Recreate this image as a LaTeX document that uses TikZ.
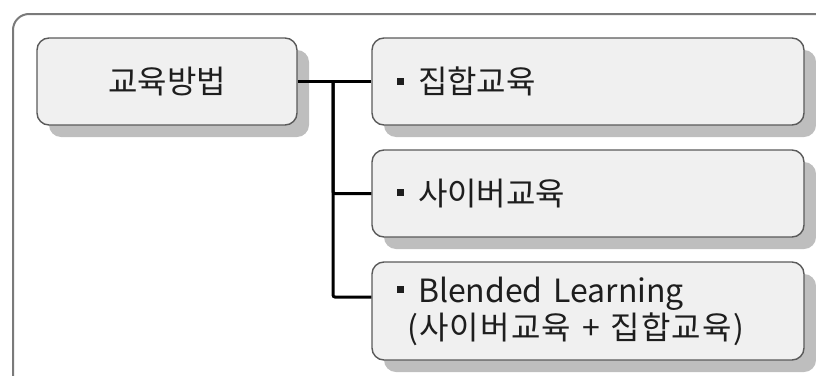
\documentclass[tikz,border=0pt]{standalone}
\usepackage{fontspec}
\setmainfont{Noto Sans CJK KR}
\usepackage{xcolor}
\usepackage{tikz}
\usetikzlibrary{shadows}
\definecolor{frame}{HTML}{7A7A7A}
\definecolor{boxfill}{HTML}{F0F0F0}
\definecolor{boxline}{HTML}{5A5A5A}
\definecolor{shade}{HTML}{BEBEBE}
\definecolor{ink}{HTML}{1E1E1E}
\tikzset{
  outline/.style={line width=2pt, draw=frame, rounded corners=16pt},
  topic/.style={draw=boxline, line width=1.4pt, fill=boxfill, rounded corners=12pt, text=ink,
    drop shadow={shadow xshift=12pt, shadow yshift=-12pt, fill=shade, opacity=1},
    font=\fontsize{32}{37}\selectfont},
  item/.style={topic, text width=382pt, inner xsep=25pt, align=left},
  branch/.style={line width=3pt, draw=black, rounded corners=2pt}
}
\newcommand{\ItemMark}{\raisebox{9pt}{\rule{7pt}{7pt}}\hspace{14pt}}

\begin{document}
\begin{tikzpicture}[x=1pt,y=-1pt]
  \clip (0,0) rectangle (816,375);
  \draw[outline] (830,14) -- (13,14) -- (13,390);
  \node[topic, minimum width=260pt, minimum height=87pt] (method) at (167,81.5) {교육방법};
  \node[item, minimum height=87pt] (group) at (588,81.5) {\ItemMark 집합교육};
  \node[item, minimum height=87pt] (cyber) at (588,193.5) {\ItemMark 사이버교육};
  \node[item, minimum height=98pt] (blend) at (588,311)
    {\ItemMark Blended Learning\\\hspace*{10pt}{\addfontfeature{LetterSpace=4}(사이버교육 + 집합교육)}};
  \coordinate (trunk) at (333,0);
  % branches to the three kinds
  \draw[branch] (method.east) -- (group.west);
  \draw[branch] (trunk |- method.east) |- (cyber.west);
  \draw[branch] (trunk |- method.east) |- ([yshift=14pt]blend.west);
\end{tikzpicture}
\end{document}
